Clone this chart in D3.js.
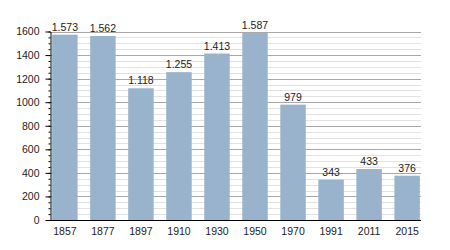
<!DOCTYPE html>
<html>
<head>
<meta charset="utf-8">
<script src="https://cdn.jsdelivr.net/npm/d3@7"></script>
<style>
  body { margin: 0; background: #fff; }
  text { font-family: "Liberation Sans", Arial, sans-serif; font-size: 10.5px; fill: #222; }
</style>
</head>
<body>
<script>
const years = ['1857', '1877', '1897', '1910', '1930', '1950', '1970', '1991', '2011', '2015']
const population = [1573, 1562, 1118, 1255, 1413, 1587, 979, 343, 433, 376]
const valueLabels = ['1.573', '1.562', '1.118', '1.255', '1.413', '1.587', '979', '343', '433', '376']
const yTicks = [0, 200, 400, 600, 800, 1000, 1200, 1400, 1600]

const w = 450
const h = 250
const plotLeft = 50
const plotRight = 421
const plotTop = 31.5
const plotBottom = 220

const svg = d3.select('body')
    .append('svg')
    .attr('width', w)
    .attr('height', h)

const xScale = d3.scaleBand()
    .domain(years)
    .range([plotLeft + 1, plotRight])
    .paddingInner(0.33)
    .paddingOuter(0.03)

const yScale = d3.scaleLinear()
    .domain([0, 1600])
    .range([plotBottom, plotTop])

// minor grid every 50
const minor = d3.range(50, 1600, 50).filter(v => v % 200 !== 0)
svg.append('g')
    .selectAll('line')
    .data(minor)
    .enter()
    .append('line')
    .attr('x1', plotLeft)
    .attr('x2', plotRight)
    .attr('y1', d => Math.round(yScale(d)) + 0.5)
    .attr('y2', d => Math.round(yScale(d)) + 0.5)
    .attr('stroke', '#e2e2e2')
    .attr('stroke-width', 1)

// major grid
svg.append('g')
    .selectAll('line')
    .data(yTicks.slice(1))
    .enter()
    .append('line')
    .attr('x1', plotLeft)
    .attr('x2', plotRight)
    .attr('y1', d => Math.round(yScale(d)) + 0.5)
    .attr('y2', d => Math.round(yScale(d)) + 0.5)
    .attr('stroke', '#a8a8a8')
    .attr('stroke-width', 1)

svg.selectAll('rect')
    .data(population)
    .enter()
    .append('rect')
    .attr('x', (d, i) => xScale(years[i]))
    .attr('y', d => yScale(d))
    .attr('width', xScale.bandwidth())
    .attr('height', d => plotBottom - yScale(d))
    .attr('fill', '#99b3cc')

svg.append('g')
    .selectAll('text')
    .data(valueLabels)
    .enter()
    .append('text')
    .attr('x', (d, i) => xScale(years[i]) + xScale.bandwidth() / 2)
    .attr('y', (d, i) => yScale(population[i]) - 4)
    .attr('text-anchor', 'middle')
    .text(d => d)

// minor ticks on y axis
const yMinor = d3.axisLeft(yScale)
    .tickValues(d3.range(0, 1601, 50))
    .tickSize(2)
    .tickFormat('')

svg.append('g')
    .attr('transform', 'translate(' + (plotLeft + 0.5) + ',0)')
    .call(yMinor)
    .call(g => g.select('.domain').remove())

const yAxis = d3.axisLeft(yScale)
    .tickValues(yTicks)
    .tickFormat(d3.format('d'))
    .tickSize(5)
    .tickPadding(6)
    .tickSizeOuter(0)

svg.append('g')
    .attr('transform', 'translate(' + (plotLeft + 0.5) + ',0)')
    .call(yAxis)
    .attr('id', 'y-axis')
    .call(g => g.selectAll('text').attr('font-family', null).attr('font-size', null))

const xAxis = d3.axisBottom(xScale)
    .tickSize(0)
    .tickPadding(7)
    .tickSizeOuter(0)

svg.append('g')
    .attr('transform', 'translate(0,' + (plotBottom + 0.5) + ')')
    .call(xAxis)
    .attr('id', 'x-axis')
    .call(g => g.select('.domain').attr('d', 'M' + plotLeft + ',0H' + plotRight))
    .call(g => g.selectAll('text').attr('font-family', null).attr('font-size', null))
</script>
</body>
</html>
